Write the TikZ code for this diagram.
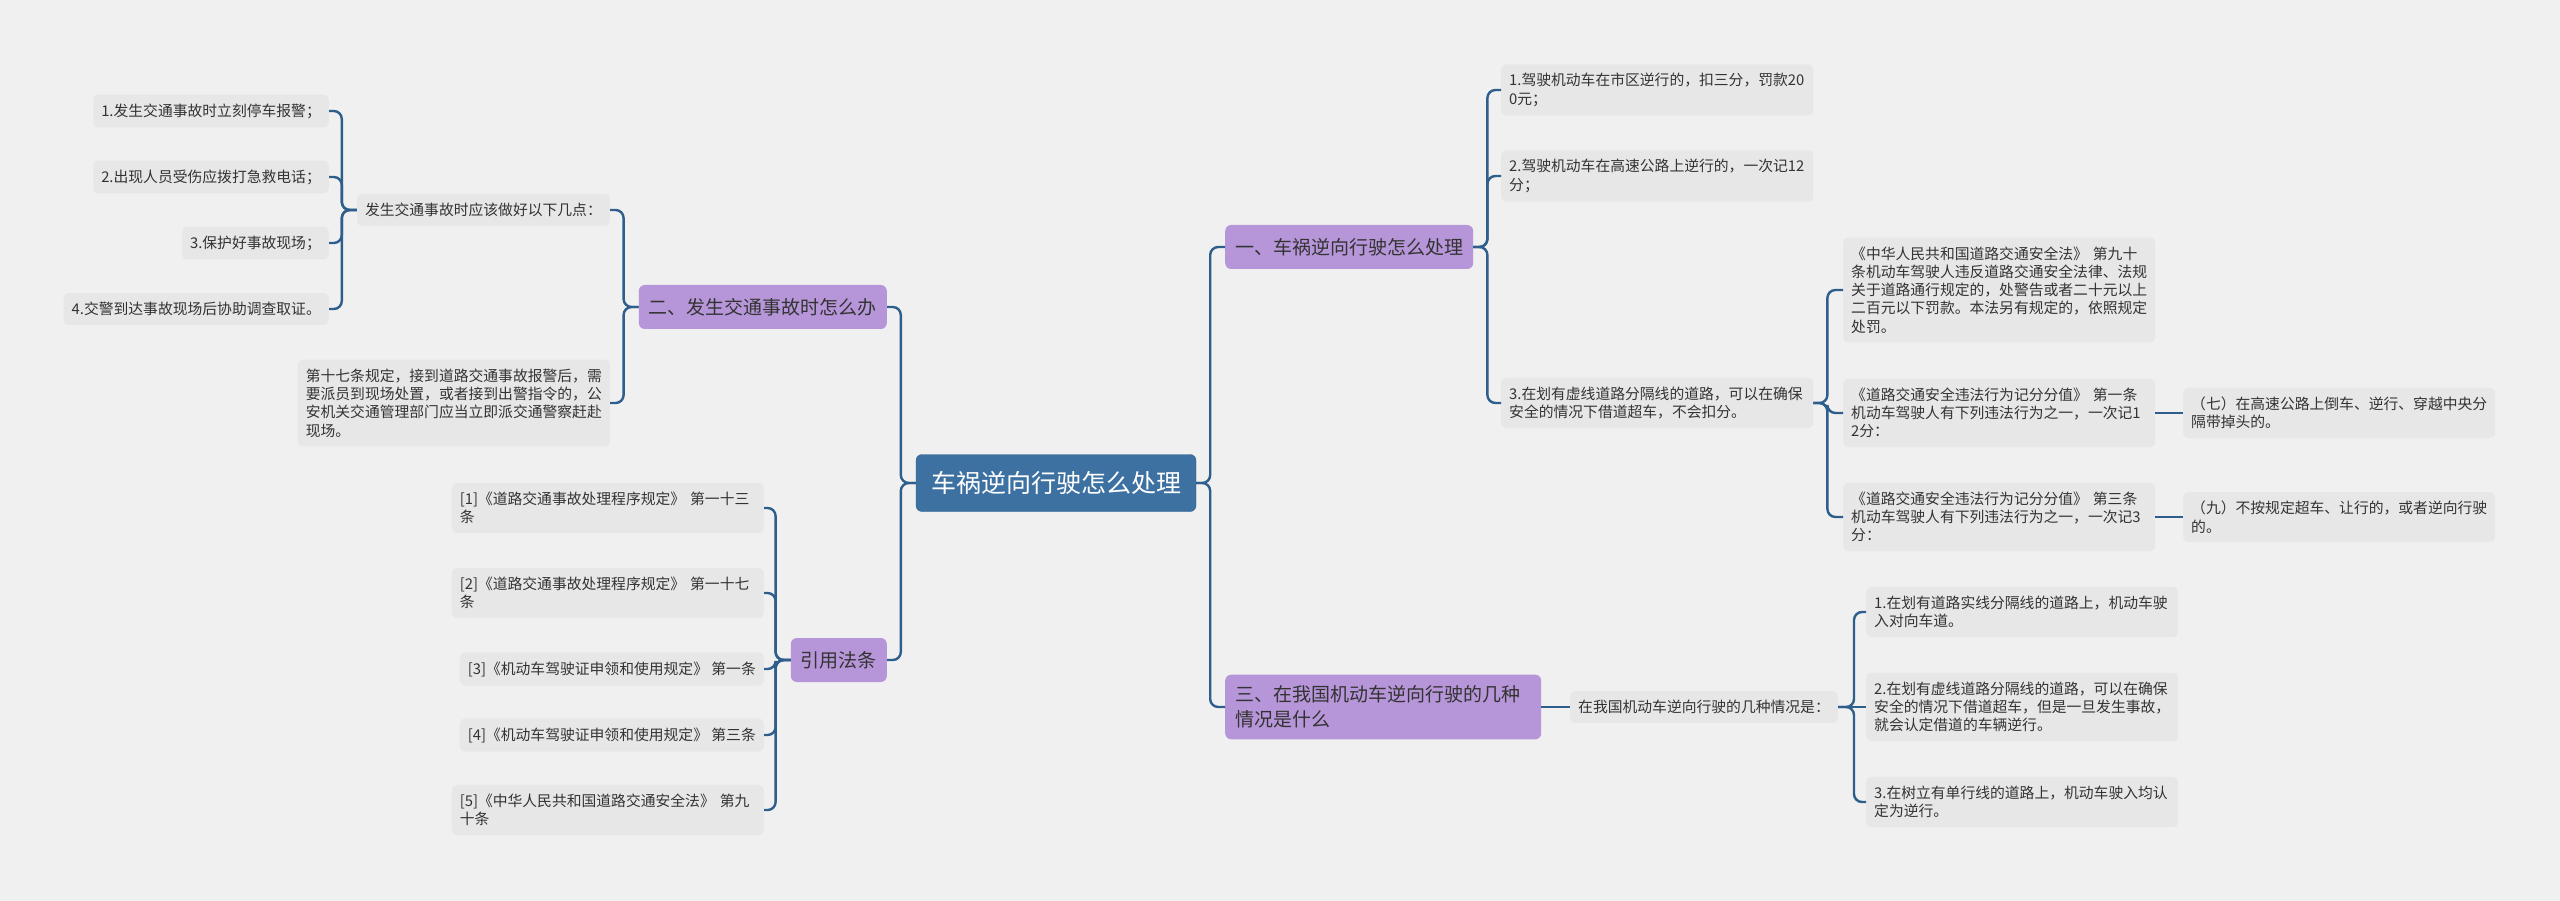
\documentclass[tikz,border=0pt]{standalone}
\usepackage{fontspec}
\setmainfont{Noto Sans CJK SC}
\definecolor{bgcol}{RGB}{240,240,240}
\definecolor{leafcol}{RGB}{231,231,231}
\definecolor{topiccol}{RGB}{182,150,216}
\definecolor{rootcol}{RGB}{61,113,161}
\definecolor{linkcol}{RGB}{46,94,140}
\definecolor{textcol}{RGB}{51,51,51}
\begin{document}
\begin{tikzpicture}[x=1pt,y=-1pt,
  leaf/.style={fill=leafcol,rounded corners=5pt,inner xsep=8pt,inner ysep=9pt,align=left,text=textcol,font=\fontsize{14.8}{18.3}\selectfont},
  wide/.style={leaf,text width=296pt},
  topic/.style={fill=topiccol,rounded corners=6pt,inner xsep=10pt,inner ysep=11pt,minimum height=44pt,align=left,text=textcol,font=\fontsize{19}{25}\selectfont},
  root/.style={fill=rootcol,draw=rootcol!85!black,rounded corners=6pt,inner xsep=15pt,minimum height=57pt,text=white,font=\fontsize{25}{30}\selectfont},
  link/.style={draw=linkcol,line width=2.4pt,rounded corners=8pt}]
\fill[bgcol] (0,0) rectangle (2560,901);
\node[root] (root) at (1056,483) {车祸逆向行驶怎么处理};
\node[topic,anchor=west] (one) at (1225,247) {一、车祸逆向行驶怎么处理};
\node[topic,anchor=west,text width=296pt] (three) at (1225,707) {三、在我国机动车逆向行驶的几种\\情况是什么};
\node[topic,anchor=east] (two) at (887,307) {二、发生交通事故时怎么办};
\node[topic,anchor=east] (cite) at (887,660) {引用法条};
\node[leaf,anchor=east] (q) at (610,210) {发生交通事故时应该做好以下几点：};
\node[leaf,anchor=east] (q1) at (329,111) {1.发生交通事故时立刻停车报警；};
\node[leaf,anchor=east] (q2) at (329,177) {2.出现人员受伤应拨打急救电话；};
\node[leaf,anchor=east] (q3) at (329,243) {3.保护好事故现场；};
\node[leaf,anchor=east] (q4) at (329,309) {4.交警到达事故现场后协助调查取证。};
\node[wide,anchor=east] (rule) at (610,403) {第十七条规定，接到道路交通事故报警后，需\\要派员到现场处置，或者接到出警指令的，公\\安机关交通管理部门应当立即派交通警察赶赴\\现场。};
\node[wide,anchor=east] (ref1) at (764,508) {[1]《道路交通事故处理程序规定》 第一十三\\条};
\node[wide,anchor=east] (ref2) at (764,593) {[2]《道路交通事故处理程序规定》 第一十七\\条};
\node[leaf,anchor=east] (ref3) at (764,669) {[3]《机动车驾驶证申领和使用规定》 第一条};
\node[leaf,anchor=east] (ref4) at (764,735) {[4]《机动车驾驶证申领和使用规定》 第三条};
\node[wide,anchor=east] (ref5) at (764,810) {[5]《中华人民共和国道路交通安全法》 第九\\十条};
\node[wide,anchor=west] (a1) at (1501,90) {1.驾驶机动车在市区逆行的，扣三分，罚款20\\0元；};
\node[wide,anchor=west] (a2) at (1501,176) {2.驾驶机动车在高速公路上逆行的，一次记12\\分；};
\node[wide,anchor=west] (a3) at (1501,403) {3.在划有虚线道路分隔线的道路，可以在确保\\安全的情况下借道超车，不会扣分。};
\node[wide,anchor=west] (b1) at (1843,290) {《中华人民共和国道路交通安全法》 第九十\\条机动车驾驶人违反道路交通安全法律、法规\\关于道路通行规定的，处警告或者二十元以上\\二百元以下罚款。本法另有规定的，依照规定\\处罚。};
\node[wide,anchor=west] (b2) at (1843,413) {《道路交通安全违法行为记分分值》 第一条\\机动车驾驶人有下列违法行为之一，一次记1\\2分：};
\node[wide,anchor=west] (b3) at (1843,517) {《道路交通安全违法行为记分分值》 第三条\\机动车驾驶人有下列违法行为之一，一次记3\\分：};
\node[wide,anchor=west] (c2) at (2183,413) {（七）在高速公路上倒车、逆行、穿越中央分\\隔带掉头的。};
\node[wide,anchor=west] (c3) at (2183,517) {（九）不按规定超车、让行的，或者逆向行驶\\的。};
\node[leaf,anchor=west] (d) at (1570,707) {在我国机动车逆向行驶的几种情况是：};
\node[wide,anchor=west] (d1) at (1866,612) {1.在划有道路实线分隔线的道路上，机动车驶\\入对向车道。};
\node[wide,anchor=west] (d2) at (1866,707) {2.在划有虚线道路分隔线的道路，可以在确保\\安全的情况下借道超车，但是一旦发生事故，\\就会认定借道的车辆逆行。};
\node[wide,anchor=west] (d3) at (1866,802) {3.在树立有单行线的道路上，机动车驶入均认\\定为逆行。};
\draw[link] (root.west) -- ++(-15,0) |- (two.east);
\draw[link] (root.west) -- ++(-15,0) |- (cite.east);
\draw[link] (root.east) -- ++(14,0) |- (one.west);
\draw[link] (root.east) -- ++(14,0) |- (three.west);
\draw[link] (two.west) -- ++(-15,0) |- (q.east);
\draw[link] (two.west) -- ++(-15,0) |- (rule.east);
\draw[link] (q.west) -- ++(-15,0) |- (q1.east);
\draw[link] (q.west) -- ++(-15,0) |- (q2.east);
\draw[link] (q.west) -- ++(-15,0) |- (q3.east);
\draw[link] (q.west) -- ++(-15,0) |- (q4.east);
\draw[link] (cite.west) -- ++(-15,0) |- (ref1.east);
\draw[link] (cite.west) -- ++(-15,0) |- (ref2.east);
\draw[link] (cite.west) -- ++(-15,0) |- (ref3.east);
\draw[link] (cite.west) -- ++(-15,0) |- (ref4.east);
\draw[link] (cite.west) -- ++(-15,0) |- (ref5.east);
\draw[link] (one.east) -- ++(14,0) |- (a1.west);
\draw[link] (one.east) -- ++(14,0) |- (a2.west);
\draw[link] (one.east) -- ++(14,0) |- (a3.west);
\draw[link] (a3.east) -- ++(14,0) |- (b1.west);
\draw[link] (a3.east) -- ++(14,0) |- (b2.west);
\draw[link] (a3.east) -- ++(14,0) |- (b3.west);
\draw[link] (b2.east) -- (c2.west);
\draw[link] (b3.east) -- (c3.west);
\draw[link] (three.east) -- (d.west);
\draw[link] (d.east) -- ++(16,0) |- (d1.west);
\draw[link] (d.east) -- (d2.west);
\draw[link] (d.east) -- ++(16,0) |- (d3.west);
\end{tikzpicture}
\end{document}
